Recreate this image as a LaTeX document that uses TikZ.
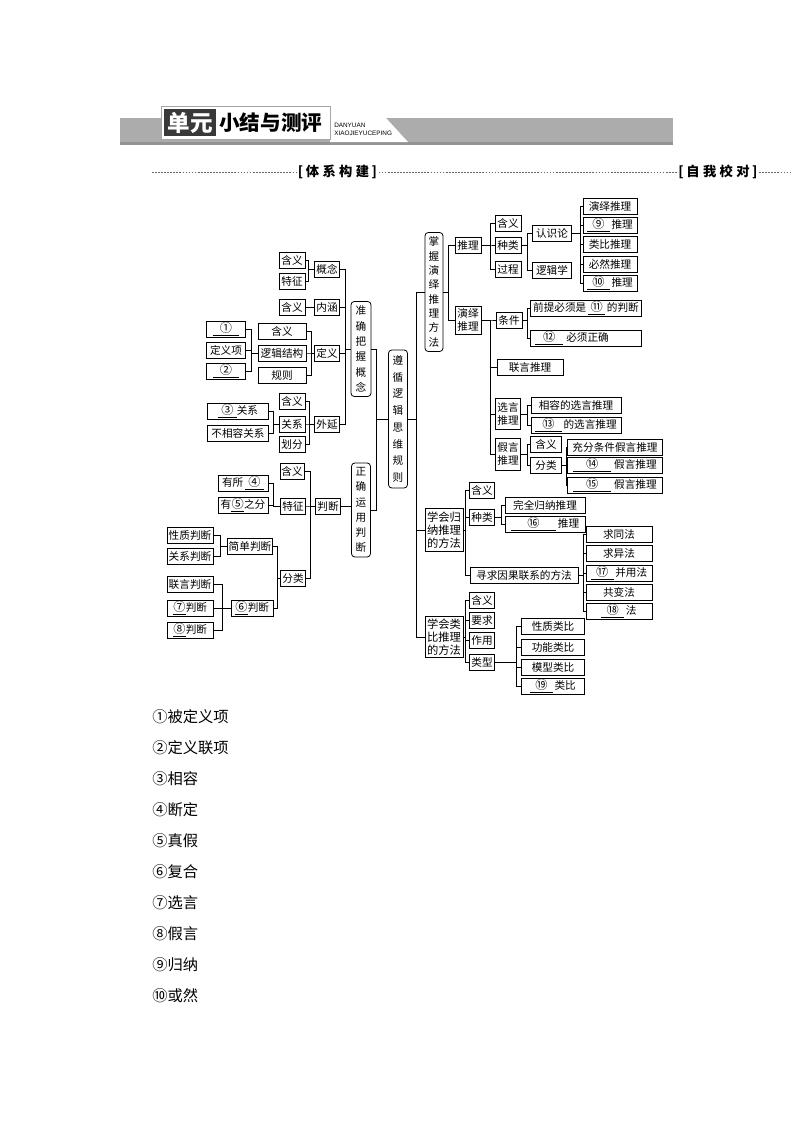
\documentclass[tikz,border=0pt]{standalone}
\usepackage{fontspec}
\setmainfont{Noto Sans CJK SC}
\newfontfamily\latinsf{Liberation Sans}
\usetikzlibrary{positioning}

\newcommand\fillin[2][5mm]{\underline{\makebox[#1]{\fontsize{9.2}{10}\selectfont#2}}}

\tikzset{
  cbox/.style={draw, line width=0.6pt, inner sep=0.8pt, minimum height=4.2mm,
    font=\fontsize{8}{10}\selectfont, fill=white, align=center},
  roundbox/.style={cbox, rounded corners=2.5pt},
  bw/.style={minimum width=#1*0.2646mm},
  bh/.style={minimum height=#1*0.2646mm},
  conn/.style={line width=0.5pt},
  sep/.style={gray!80!black, line width=0.4pt, dash pattern=on 1.3pt off 1pt},
}

\begin{document}
\begin{tikzpicture}[x=0.2646mm, y=-0.2646mm]
    \useasboundingbox (0,0) rectangle (794,1123);

    % Header bar
    \fill[gray!65] (120,118) rectangle (673,142);
    \fill[gray!85] (120,142) rectangle (673,145);
    \fill[white] (330,118) -- (386,118) -- (408,142) -- (330,142) -- cycle;
    \draw[gray!70, fill=white, line width=0.6pt] (161,106) rectangle (330,139);
    \fill[gray!45!black] (164,109) rectangle (216,136);
    \node[font=\fontsize{17}{17}\selectfont\bfseries, text=white] (dyt) at (190,122.5) {单元};
    \node[font=\fontsize{15.5}{16}\selectfont\bfseries, anchor=west, inner sep=0] (xjt) at (219,122.5) {小结与测评};
    \node[font=\latinsf\fontsize{4.8}{5.8}\selectfont, anchor=west, align=left, inner sep=0] (pyt) at (334,129) {DANYUAN\\XIAOJIEYUCEPING};

    % Separator
    \node[font=\fontsize{10}{12}\selectfont\bfseries, inner sep=1pt] (txgj) at (337.5,172) {[\hspace{2pt}体\hspace{2.5pt}系\hspace{2.5pt}构\hspace{2.5pt}建\hspace{2pt}]};
    \node[font=\fontsize{10}{12}\selectfont\bfseries, inner sep=1pt] (zwjd) at (718,172) {[\hspace{2pt}自\hspace{2.5pt}我\hspace{2.5pt}校\hspace{2.5pt}对\hspace{2pt}]};
    \coordinate (sepa) at (152,172);
    \coordinate (sepb) at (790,172);
    \draw[sep] (sepa) -- (txgj.west);
    \draw[sep] (txgj.east) -- (zwjd.west);
    \draw[sep] (zwjd.east) -- (sepb);

    % ---------- Left branch: concepts ----------
    \node[cbox, bw=26] (hy1) at (292,260) {含义};
    \node[cbox, bw=26] (tz1) at (292,281) {特征};
    \node[cbox, bw=25] (gn)  at (327,269) {概念};
    \node[cbox, bw=26] (hy2) at (292,307) {含义};
    \node[cbox, bw=25] (nh)  at (327,307) {内涵};
    \node[cbox, bw=39] (b1)  at (226,329) {\fillin[7mm]{①}};
    \node[cbox, bw=39] (dyx) at (226,350) {定义项};
    \node[cbox, bw=39] (b2)  at (226,371) {\fillin[7mm]{②}};
    \node[cbox, bw=48] (hy3) at (282,331) {含义};
    \node[cbox, bw=48] (ljjg) at (282,353) {逻辑结构};
    \node[cbox, bw=48] (gz)  at (282,375) {规则};
    \node[cbox, bw=25] (dy)  at (327,353) {定义};
    \node[cbox, bw=26] (hy4) at (292,401) {含义};
    \node[cbox, bw=26] (gx)  at (292,424) {关系};
    \node[cbox, bw=26] (hf)  at (292,444) {划分};
    \node[cbox, bw=25] (wy)  at (327,424) {外延};
    \node[cbox, bw=61] (b3)  at (238,411) {\fillin[5mm]{③}关系};
    \node[cbox, bw=61] (bxr) at (238,433) {不相容关系};
    \node[roundbox, bw=20, bh=95, font=\fontsize{8}{11.6}\selectfont] (zq) at (361,349) {准\\确\\把\\握\\概\\念};

    % ---------- Left branch: judgements ----------
    \node[cbox, bw=24] (hy5) at (292,471) {含义};
    \node[cbox, bw=25] (tz2) at (293,506) {特征};
    \node[cbox, bw=25] (fl1) at (293,578) {分类};
    \node[cbox, bw=25] (pd)  at (328,506) {判断};
    \node[cbox, bw=50] (ys)  at (243,483) {有所\,\fillin[5mm]{④}};
    \node[cbox, bw=50] (yzf) at (243,505) {有\fillin[3.4mm]{⑤}之分};
    \node[cbox, bw=45] (jd)  at (250,546) {简单判断};
    \node[cbox, bw=46] (xz)  at (190,535) {性质判断};
    \node[cbox, bw=46] (gxpd) at (190,556) {关系判断};
    \node[cbox, bw=42] (fh)  at (252,608) {\fillin[3.4mm]{⑥}判断};
    \node[cbox, bw=46] (ly)  at (190,584) {联言判断};
    \node[cbox, bw=46] (b7)  at (190,608) {\fillin[3.4mm]{⑦}判断};
    \node[cbox, bw=46] (b8)  at (190,630) {\fillin[3.4mm]{⑧}判断};
    \node[roundbox, bw=19, bh=94, font=\fontsize{8}{11.4}\selectfont] (zy) at (361,510) {正\\确\\运\\用\\判\\断};

    % Root
    \node[roundbox, bw=19, bh=138, font=\fontsize{8}{12.6}\selectfont] (zx) at (398,419) {遵\\循\\逻\\辑\\思\\维\\规\\则};

    % ---------- Right branch: deduction ----------
    \node[roundbox, bw=18, bh=119, font=\fontsize{8}{10.8}\selectfont] (zw) at (434,292) {掌\\握\\演\\绎\\推\\理\\方\\法};
    \node[cbox, bw=26] (tl)  at (468,245) {推理};
    \node[cbox, bw=26, bh=28, font=\fontsize{8}{9.2}\selectfont] (yy) at (468,320) {演绎\\推理};
    \node[cbox, bw=26] (hy6) at (508,223) {含义};
    \node[cbox, bw=26] (zl)  at (508,245) {种类};
    \node[cbox, bw=26] (gc)  at (508,269) {过程};
    \node[cbox, bw=39] (rsl) at (552,233) {认识论};
    \node[cbox, bw=39] (ljx) at (552,270) {逻辑学};
    \node[cbox, bw=54] (yytl) at (610,206) {演绎推理};
    \node[cbox, bw=54] (b9)  at (610,225) {\fillin[6mm]{⑨}\,推理};
    \node[cbox, bw=54] (lbtl) at (610,244) {类比推理};
    \node[cbox, bw=54] (bran) at (610,264) {必然推理};
    \node[cbox, bw=54] (b10) at (610,283) {\fillin[6mm]{⑩}\,推理};
    \node[cbox, bw=26] (tj)  at (509,320) {条件};
    \node[cbox, bw=111] (qt) at (586,308) {前提必须是\,\fillin[4.5mm]{⑪}\,的判断};
    \node[cbox, bw=111] (b12) at (586,338) {\makebox[27mm][l]{\fillin[7.5mm]{⑫}\;必须正确}};
    \node[cbox, bw=66] (lyt) at (530,367) {联言推理};
    \node[cbox, bw=25, bh=31, font=\fontsize{8}{9.5}\selectfont] (xy) at (508,414) {选言\\推理};
    \node[cbox, bw=90] (xr)  at (576,405) {相容的选言推理};
    \node[cbox, bw=90] (b13) at (576,425) {\fillin[7mm]{⑬}\,的选言推理};
    \node[cbox, bw=25, bh=32, font=\fontsize{8}{9.5}\selectfont] (jy) at (508,454) {假言\\推理};
    \node[cbox, bw=31] (hy7) at (546,444) {含义};
    \node[cbox, bw=31] (fl2) at (546,465) {分类};
    \node[cbox, bw=95] (cf)  at (615,447) {充分条件假言推理};
    \node[cbox, bw=95] (b14) at (615,465) {\fillin[10mm]{⑭}\;假言推理};
    \node[cbox, bw=95] (b15) at (615,485) {\fillin[10mm]{⑮}\;假言推理};

    % ---------- Right branch: induction ----------
    \node[cbox, bw=38, bh=43, font=\fontsize{8.5}{10}\selectfont] (gnf) at (444,530) {学会归\\纳推理\\的方法};
    \node[cbox, bw=25] (hy8) at (482,490) {含义};
    \node[cbox, bw=25] (zl2) at (482,517) {种类};
    \node[cbox, bw=108] (xq) at (524,575) {寻求因果联系的方法};
    \node[cbox, bw=80] (wq)  at (545,505) {完全归纳推理};
    \node[cbox, bw=80] (b16) at (545,524) {\fillin[12mm]{⑯}\,推理};
    \node[cbox, bw=66] (qt1) at (619,534) {求同法};
    \node[cbox, bw=66] (qy)  at (619,553) {求异法};
    \node[cbox, bw=66] (b17) at (619,573) {\fillin[6mm]{⑰}\,并用法};
    \node[cbox, bw=66] (gb)  at (619,592) {共变法};
    \node[cbox, bw=66] (b18) at (619,611) {\fillin[6mm]{⑱}\,法};

    % ---------- Right branch: analogy ----------
    \node[cbox, bw=38, bh=41, font=\fontsize{8.5}{10}\selectfont] (lb) at (444,637) {学会类\\比推理\\的方法};
    \node[cbox, bw=25] (hy9) at (482,600) {含义};
    \node[cbox, bw=25] (yq)  at (482,620) {要求};
    \node[cbox, bw=25] (zyy) at (482,640) {作用};
    \node[cbox, bw=25] (lx)  at (482,662) {类型};
    \node[cbox, bw=63] (xzlb) at (553,626) {性质类比};
    \node[cbox, bw=63] (gnlb) at (553,647) {功能类比};
    \node[cbox, bw=63] (mxlb) at (553,667) {模型类比};
    \node[cbox, bw=63] (b19) at (553,686) {\fillin[6mm]{⑲}\,类比};

    % Bus positions
    \coordinate (kGN) at (308,0);  \coordinate (kZQ) at (345,0);
    \coordinate (kDY) at (311,0);  \coordinate (kLJ) at (251,0);
    \coordinate (kWY) at (309,0);  \coordinate (kGX) at (273,0);
    \coordinate (kPD) at (310,0);  \coordinate (kTZ) at (273,0);
    \coordinate (kFL) at (277,0);  \coordinate (kJD) at (220,0);
    \coordinate (kFH) at (222,0);  \coordinate (kL)  at (376,0);
    \coordinate (kR)  at (416,0);  \coordinate (kZW) at (448,0);
    \coordinate (kTL) at (490,0);  \coordinate (kZL) at (527,0);
    \coordinate (kRS) at (580,0);  \coordinate (kFL2) at (566,0);
    \coordinate (kGNF) at (465,0); \coordinate (kZL2) at (501,0);
    \coordinate (kXQ) at (583,0);  \coordinate (kLX) at (516,0);

    % Connectors, left half (children on the left)
    \foreach \c in {hy1,tz1} \draw[conn] (\c.east) -- (\c.east -| kGN) |- (gn.west);
    \draw[conn] (hy2) -- (nh);
    \foreach \c in {b1,dyx,b2} \draw[conn] (\c.east) -- (\c.east -| kLJ) |- (ljjg.west);
    \foreach \c in {hy3,ljjg,gz} \draw[conn] (\c.east) -- (\c.east -| kDY) |- (dy.west);
    \foreach \c in {b3,bxr} \draw[conn] (\c.east) -- (\c.east -| kGX) |- (gx.west);
    \foreach \c in {hy4,gx,hf} \draw[conn] (\c.east) -- (\c.east -| kWY) |- (wy.west);
    \foreach \c in {gn,nh,dy,wy} \draw[conn] (\c.east) -- (\c.east -| kZQ) |- (zq.west);
    \foreach \c in {ys,yzf} \draw[conn] (\c.east) -- (\c.east -| kTZ) |- (tz2.west);
    \foreach \c in {xz,gxpd} \draw[conn] (\c.east) -- (\c.east -| kJD) |- (jd.west);
    \foreach \c in {ly,b7,b8} \draw[conn] (\c.east) -- (\c.east -| kFH) |- (fh.west);
    \foreach \c in {jd,fh} \draw[conn] (\c.east) -- (\c.east -| kFL) |- (fl1.west);
    \foreach \c in {hy5,tz2,fl1} \draw[conn] (\c.east) -- (\c.east -| kPD) |- (pd.west);
    \draw[conn] (pd.east) -- (pd.east -| zy.west);
    \foreach \c in {zq,zy} \draw[conn] (\c.east) -- (\c.east -| kL) |- (zx.west);

    % Connectors, right half (children on the right)
    \foreach \c in {zw,gnf,lb} \draw[conn] (zx.east) -- (zx.east -| kR) |- (\c.west);
    \foreach \c in {tl,yy} \draw[conn] (zw.east) -- (zw.east -| kZW) |- (\c.west);
    \foreach \c in {hy6,zl,gc} \draw[conn] (tl.east) -- (tl.east -| kTL) |- (\c.west);
    \foreach \c in {rsl,ljx} \draw[conn] (zl.east) -- (zl.east -| kZL) |- (\c.west);
    \foreach \c in {yytl,b9,lbtl,bran,b10} \draw[conn] (rsl.east) -- (rsl.east -| kRS) |- (\c.west);
    \foreach \c in {tj,lyt,xy,jy} \draw[conn] (yy.east) -- (yy.east -| kTL) |- (\c.west);
    \foreach \c in {qt,b12} \draw[conn] (tj.east) -- (tj.east -| kZL) |- (\c.west);
    \foreach \c in {xr,b13} \draw[conn] (xy.east) -- (xy.east -| kZL) |- (\c.west);
    \foreach \c in {hy7,fl2} \draw[conn] (jy.east) -- (jy.east -| kZL) |- (\c.west);
    \foreach \c in {cf,b14,b15} \draw[conn] (fl2.east) -- (fl2.east -| kFL2) |- (\c.west);
    \foreach \c in {hy8,zl2,xq} \draw[conn] (gnf.east) -- (gnf.east -| kGNF) |- (\c.west);
    \foreach \c in {wq,b16} \draw[conn] (zl2.east) -- (zl2.east -| kZL2) |- (\c.west);
    \foreach \c in {qt1,qy,b17,gb,b18} \draw[conn] (xq.east) -- (xq.east -| kXQ) |- (\c.west);
    \foreach \c in {hy9,yq,zyy,lx} \draw[conn] (lb.east) -- (lb.east -| kGNF) |- (\c.west);
    \foreach \c in {xzlb,gnlb,mxlb,b19} \draw[conn] (lx.east) -- (lx.east -| kLX) |- (\c.west);

    % Answers
    \foreach \t [count=\i] in {①被定义项,②定义联项,③相容,④断定,⑤真假,⑥复合,⑦选言,⑧假言,⑨归纳,⑩或然}
        \node[anchor=west, inner sep=0, font=\fontsize{11.5}{12}\selectfont] (ans\i) at (152,686+31*\i) {\t};
\end{tikzpicture}
\end{document}
